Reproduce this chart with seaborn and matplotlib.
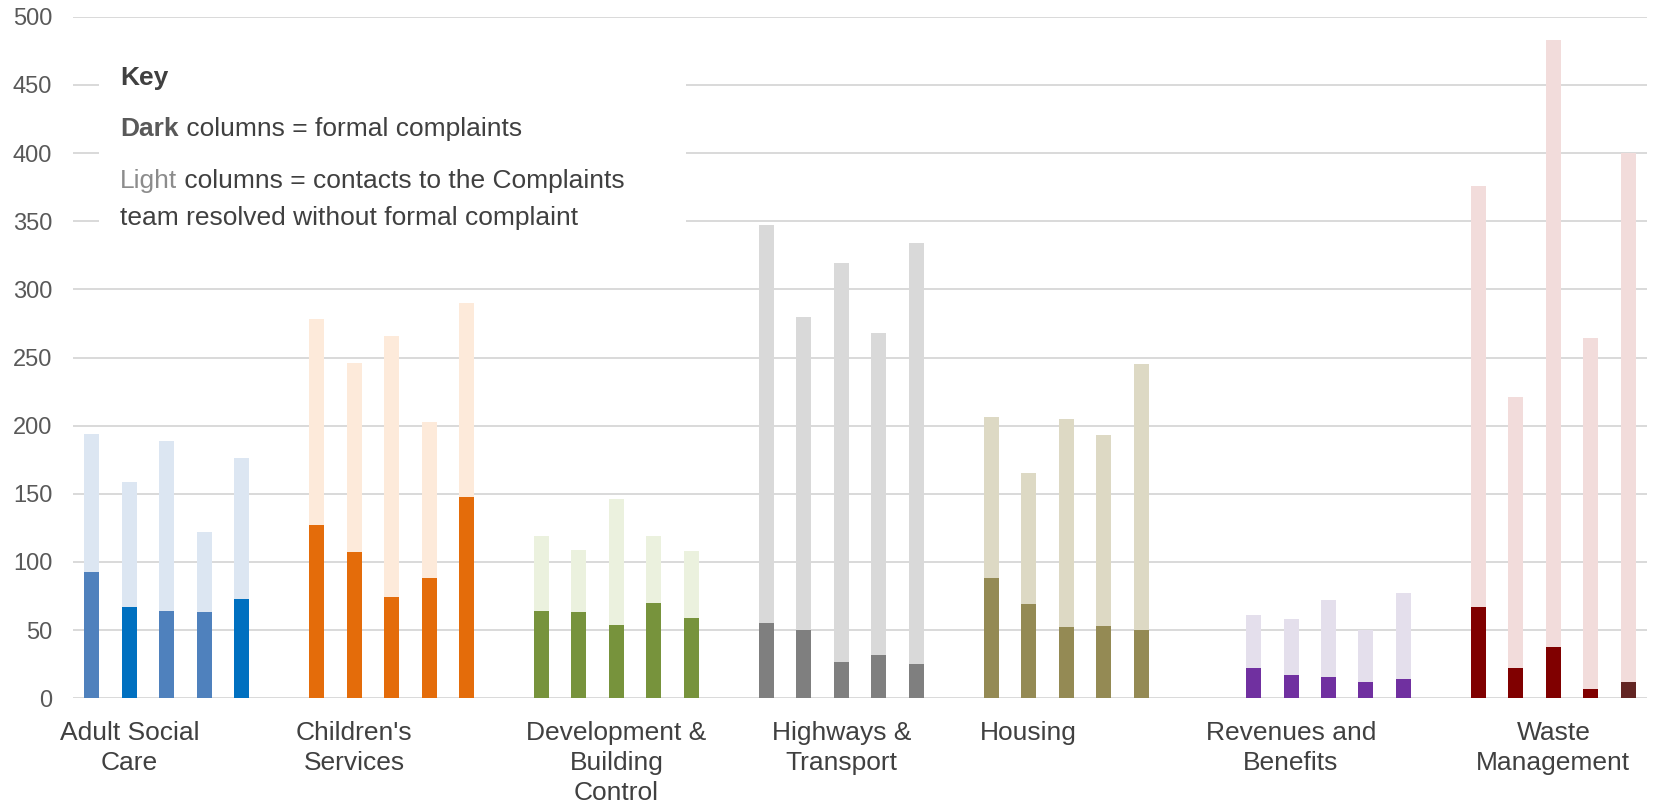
import numpy as np
import pandas as pd
import matplotlib.pyplot as plt
import seaborn as sns
from matplotlib.patches import Rectangle

# DATOS
SERVICES = ["Adult Social Care", "Children's Services", "Development & Building Control",
            "Highways & Transport", "Housing", "Revenues and Benefits", "Waste Management"]
SERVICE_LABELS = ["Adult Social\nCare", "Children's\nServices", "Development &\nBuilding\nControl",
                  "Highways &\nTransport", "Housing", "Revenues and\nBenefits", "Waste\nManagement"]
PERIODS = ["1", "2", "3", "4", "5"]

# formal complaints (dark columns)
adult_formal = [93, 67, 64, 63, 73]
children_formal = [127, 107, 74, 88, 148]
development_formal = [64, 63, 54, 70, 59]
highways_formal = [55, 50, 27, 32, 25]
housing_formal = [88, 69, 52, 53, 50]
revenues_formal = [22, 17, 16, 12, 14]
waste_formal = [67, 22, 38, 7, 12]

# total contacts (top of light columns)
adult_total = [194, 159, 189, 122, 176]
children_total = [278, 246, 266, 203, 290]
development_total = [119, 109, 146, 119, 108]
highways_total = [347, 280, 319, 268, 334]
housing_total = [206, 165, 205, 193, 245]
revenues_total = [61, 58, 72, 50, 77]
waste_total = [376, 221, 483, 264, 400]

FORMAL = [adult_formal, children_formal, development_formal, highways_formal,
          housing_formal, revenues_formal, waste_formal]
TOTAL = [adult_total, children_total, development_total, highways_total,
         housing_total, revenues_total, waste_total]

# COLORES
DARK_COLORS = [
    ["#4F81BD", "#0070C0", "#4F81BD", "#4F81BD", "#0070C0"],
    ["#E46C0A"] * 5,
    ["#77933C"] * 5,
    ["#7F7F7F"] * 5,
    ["#948A54"] * 5,
    ["#7030A0"] * 5,
    ["#800000", "#800000", "#800000", "#800000", "#632523"],
]
LIGHT_COLORS = ["#DCE6F2", "#FDEADA", "#EBF1DE", "#D9D9D9", "#DDD9C4", "#E4DFEC", "#F2DCDB"]

# LAYOUT
GAP_AFTER = [1, 1, 1, 1, 2, 1, 0]
LABEL_BAR = [1, 1, 2, 2, 1, 1, 2]
GRID_COLOR = "#D9D9D9"
TEXT_COLOR = "#404040"

rows = []
order = []
label_slots = []
for i, service in enumerate(SERVICES):
    for j, period in enumerate(PERIODS):
        slot = f"{service} {period}"
        order.append(slot)
        rows.append({"slot": slot, "service": service, "period": period,
                     "formal": FORMAL[i][j], "total": TOTAL[i][j],
                     "dark": DARK_COLORS[i][j], "light": LIGHT_COLORS[i]})
    label_slots.append(f"{service} {PERIODS[LABEL_BAR[i]]}")
    for k in range(GAP_AFTER[i]):
        order.append(f"gap {i}-{k}")
df = pd.DataFrame(rows)

sns.set_style("white")
plt.rcParams["font.family"] = ["Liberation Sans", "DejaVu Sans"]

fig, ax = plt.subplots(figsize=(16.53, 8.06), dpi=100)
fig.subplots_adjust(left=0.0442, right=0.9964, bottom=0.1336, top=0.9793)

sns.barplot(data=df, x="slot", y="total", order=order, hue="slot",
            palette=dict(zip(df["slot"], df["light"])), width=0.4, saturation=1,
            errorbar=None, legend=False, linewidth=0, ax=ax)
sns.barplot(data=df, x="slot", y="formal", order=order, hue="slot",
            palette=dict(zip(df["slot"], df["dark"])), width=0.4, saturation=1,
            errorbar=None, legend=False, linewidth=0, ax=ax)

ax.set_xlim(-0.5, len(order) - 0.5)
ax.set_ylim(0, 500)
ax.set_yticks(np.arange(0, 501, 50))
ax.yaxis.grid(True, color=GRID_COLOR, linewidth=1.4)
ax.xaxis.grid(False)
ax.set_axisbelow(True)
sns.despine(ax=ax, left=True, bottom=True)

ax.set_xticks([order.index(s) for s in label_slots])
ax.set_xticklabels(SERVICE_LABELS, fontsize=19, color=TEXT_COLOR, linespacing=1.3)
ax.tick_params(axis="x", length=0, pad=16.5)
ax.tick_params(axis="y", length=0, pad=15, labelsize=17, labelcolor="#595959")
ax.set_xlabel("")
ax.set_ylabel("")

# CAJA DE LEYENDA
ax.add_patch(Rectangle((0.0165, 0.650), 0.373, 0.3085, transform=ax.transAxes,
                       facecolor="white", edgecolor="none", zorder=2))
KEY_X = 0.0299
KEY_SIZE = 19
ax.text(KEY_X, 0.9000, "Key", transform=ax.transAxes, fontsize=KEY_SIZE,
        fontweight="bold", color=TEXT_COLOR, va="baseline", zorder=3)
t_dark = ax.text(KEY_X, 0.8250, "Dark", transform=ax.transAxes, fontsize=KEY_SIZE,
                 fontweight="bold", color="#595959", va="baseline", zorder=3)
ax.annotate(" columns = formal complaints", xy=(1, 0), xycoords=t_dark, va="bottom",
            fontsize=KEY_SIZE, color=TEXT_COLOR, zorder=3)
t_light = ax.text(KEY_X, 0.7485, "Light", transform=ax.transAxes, fontsize=KEY_SIZE,
                  color="#8C8C8C", va="baseline", zorder=3)
ax.annotate(" columns = contacts to the Complaints", xy=(1, 0), xycoords=t_light,
            va="bottom", fontsize=KEY_SIZE, color=TEXT_COLOR, zorder=3)
ax.text(KEY_X, 0.6940, "team resolved without formal complaint", transform=ax.transAxes,
        fontsize=KEY_SIZE, color=TEXT_COLOR, va="baseline", zorder=3)

plt.savefig("out.png", dpi=100)
plt.close()
